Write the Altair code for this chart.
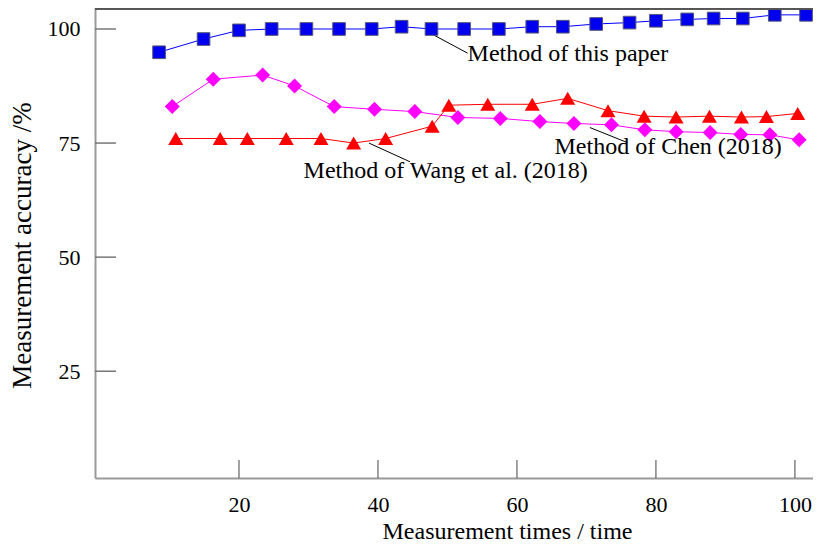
import altair as alt
import pandas as pd

# ---- data ----
x_paper = [8.5, 14.9, 20.0, 24.7, 29.7, 34.4, 39.1, 43.4, 47.7, 52.4, 57.4, 62.2, 66.6, 71.4, 76.2, 80.0, 84.5, 88.3, 92.5, 97.1, 101.6]
y_paper = [94.9, 97.8, 99.7, 100.0, 100.0, 100.0, 100.0, 100.5, 100.0, 100.0, 100.0, 100.5, 100.5, 101.1, 101.4, 101.8, 102.1, 102.3, 102.3, 103.1, 103.1]

x_chen = [10.4, 16.3, 23.4, 28.0, 33.7, 39.5, 45.3, 51.5, 57.6, 63.3, 68.2, 73.6, 78.4, 82.9, 87.8, 92.2, 96.4, 100.6]
y_chen = [83.0, 89.0, 89.9, 87.5, 83.0, 82.4, 81.9, 80.6, 80.4, 79.7, 79.3, 79.0, 77.9, 77.5, 77.3, 76.9, 76.8, 75.7]

x_wang = [10.9, 17.3, 21.2, 26.8, 31.8, 36.5, 41.1, 47.8, 50.2, 55.8, 62.2, 67.3, 73.1, 78.3, 82.9, 87.7, 92.3, 95.9, 100.4]
y_wang = [76.0, 76.0, 76.0, 76.0, 76.0, 75.0, 76.0, 78.7, 83.3, 83.5, 83.5, 84.8, 82.1, 80.9, 80.7, 80.9, 80.7, 80.8, 81.5]

x_ticks = [20, 40, 60, 80, 100]
y_ticks = [25, 50, 75, 100]

labels = ["Method of this paper", "Method of Wang et al. (2018)", "Method of Chen (2018)"]
label_x = [52.9, 29.3, 65.4]
label_y = [93.0, 67.4, 72.6]
leader_x = [46.9, 38.7, 70.5]
leader_y = [99.6, 75.0, 78.4]
leader_x2 = [52.9, 44.6, 75.9]
leader_y2 = [94.7, 70.9, 75.1]

W, H = 718, 470
FONT = "Liberation Serif"

paper = pd.DataFrame({"x": x_paper, "y": y_paper})
chen = pd.DataFrame({"x": x_chen, "y": y_chen})
wang = pd.DataFrame({"x": x_wang, "y": y_wang})
ann = pd.DataFrame({"x": label_x, "y": label_y, "label": labels})
lead = pd.DataFrame({"x": leader_x, "y": leader_y, "x2": leader_x2, "y2": leader_y2})
xt = pd.DataFrame({"x": x_ticks})
yt = pd.DataFrame({"y": y_ticks})

xscale = alt.Scale(domain=[-0.72, 102.6], nice=False, zero=False)
yscale = alt.Scale(domain=[1.6, 104.6], nice=False, zero=False)

xaxis = alt.Axis(values=x_ticks, ticks=False, tickSize=0, grid=False, labelFont=FONT,
                 labelFontSize=22, labelColor="black", labelPadding=16,
                 domainColor="#999999", domainWidth=2,
                 title="Measurement times / time", titleFont=FONT, titleFontSize=24,
                 titleFontWeight="normal", titleColor="black", titleX=412, titleY=60,
                 titleAlign="center", titleBaseline="alphabetic")
yaxis = alt.Axis(values=y_ticks, ticks=False, tickSize=0, grid=False, labelFont=FONT,
                 labelFontSize=22, labelColor="black", labelPadding=15,
                 domainColor="#999999", domainWidth=2,
                 title="Measurement accuracy /%", titleFont=FONT, titleFontSize=27,
                 titleFontWeight="normal", titleColor="black", titleAngle=270,
                 titleX=-65, titleY=237, titleAlign="center", titleBaseline="alphabetic")

X = alt.X("x:Q", scale=xscale, axis=xaxis)
Y = alt.Y("y:Q", scale=yscale, axis=yaxis)

def series(df, color, shape, size, width, fill, stroke=None):
    line = alt.Chart(df).mark_line(color=color, strokeWidth=width).encode(x=X, y=Y)
    kw = dict(shape=shape, size=size, filled=True, fill=fill, opacity=1)
    if stroke:
        kw.update(stroke=stroke, strokeWidth=1)
    pts = alt.Chart(df).mark_point(**kw).encode(x=X, y=Y)
    return line, pts

l1, p1 = series(paper, "#0000ff", "square", 160, 1.0, "#0000ee", "#555577")
l2, p2 = series(chen, "#ff00ff", "diamond", 225, 1.0, "#ff00ff")
l3, p3 = series(wang, "#ff0000", "triangle-up", 225, 1.0, "#ff0000")

leaders = alt.Chart(lead).mark_rule(color="black", strokeWidth=1).encode(
    x=X, y=Y, x2="x2:Q", y2="y2:Q")
texts = alt.Chart(ann).mark_text(font=FONT, fontSize=24, align="left",
                                 baseline="alphabetic", color="black").encode(
    x=X, y=Y, text="label:N")

xtick_rules = alt.Chart(xt).mark_rule(color="#444444", strokeWidth=1).encode(
    x=X, y=alt.value(H), y2=alt.value(H - 18))
ytick_rules = alt.Chart(yt).mark_rule(color="#777777", strokeWidth=1.5).encode(
    y=Y, x=alt.value(0), x2=alt.value(21))
top_border = alt.Chart(xt).mark_rule(color="#555555", strokeWidth=1.5).encode(
    y=alt.value(0.75), x=alt.value(0), x2=alt.value(W))

chart = alt.layer(
    l2, l3, l1, leaders, p2, p3, p1, texts, xtick_rules, ytick_rules, top_border
).properties(
    width=W, height=H,
    autosize=alt.AutoSizeParams(type="none"),
    padding={"left": 87, "top": 0, "right": 0, "bottom": 66},
).configure_view(stroke=None).configure(background="white")

chart.save("out.html", embed_options={"renderer": "svg", "actions": False})
